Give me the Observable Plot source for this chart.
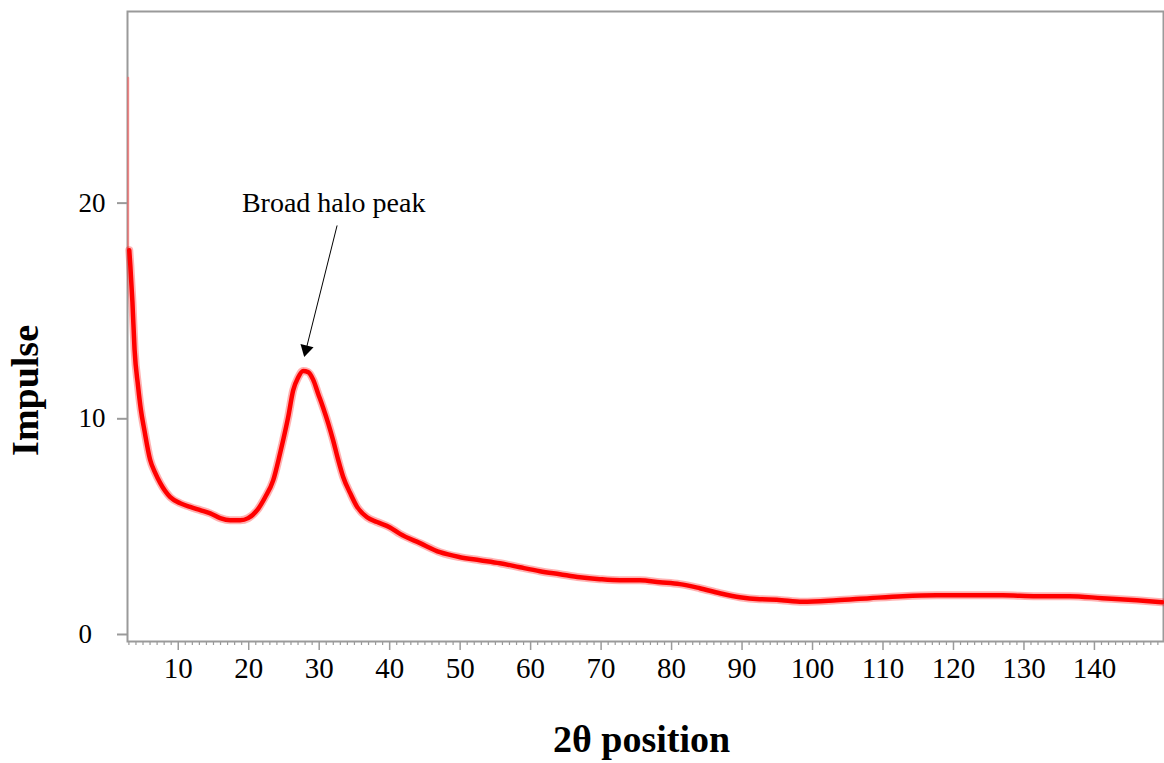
<!DOCTYPE html>
<html>
<head>
<meta charset="utf-8">
<script src="https://cdn.jsdelivr.net/npm/d3@7"></script>
<script src="https://cdn.jsdelivr.net/npm/@observablehq/plot@0.6"></script>
<style>
  html, body { margin: 0; padding: 0; background: white; }
</style>
</head>
<body>
<div id="chart"></div>
<script>
// 2θ positions and measured intensity ("Impulse")
const thetaValues = [3.05, 3.2, 3.5, 3.8, 4.3, 4.7, 5.2, 6.0, 6.7, 7.45, 8.87, 10.28, 11.7, 13.12, 14.54,
  15.95, 17.37, 18.79, 19.92, 21.2, 22.33, 23.47, 24.46, 24.89, 25.59, 26.3, 27.01, 27.72, 28.43,
  29.14, 29.85, 30.56, 31.26, 31.97, 32.68, 33.39, 34.38, 35.38, 36.79, 38.21, 40.05, 41.47, 44.31,
  47.14, 49.98, 52.81, 55.65, 58.48, 61.32, 64.15, 66.99, 69.82, 72.66, 75.5, 78.33, 81.17, 84.0,
  86.84, 89.68, 92.51, 94.92, 98.6, 103.4, 108.1, 112.8, 117.6, 122.3, 127.0, 131.8, 136.5, 141.1,
  146.0, 149.6];
const impulseValues = [18.0, 17.3, 15.6, 13.4, 11.7, 10.6, 9.65, 8.3, 7.7, 7.2, 6.55, 6.27, 6.1, 5.95, 5.8,
  5.58, 5.48, 5.48, 5.58, 5.95, 6.55, 7.33, 8.6, 9.2, 10.25, 11.5, 12.1, 12.4, 12.35,
  12.0, 11.35, 10.7, 10.0, 9.2, 8.3, 7.5, 6.75, 6.1, 5.62, 5.4, 5.15, 4.85, 4.42,
  4.0, 3.77, 3.63, 3.49, 3.3, 3.12, 2.98, 2.84, 2.75, 2.7, 2.7, 2.61, 2.52, 2.33,
  2.1, 1.91, 1.82, 1.8, 1.7, 1.77, 1.87, 1.96, 2.0, 2.0, 2.0, 1.96, 1.96, 1.87,
  1.77, 1.68];
// initial spike at low angle
const spikeTheta = [2.9, 2.9, 3.05];
const spikeImpulse = [26.0, 18.0, 18.0];

// axis ticks
const xTickValues = [10, 20, 30, 40, 50, 60, 70, 80, 90, 100, 110, 120, 130, 140];
const xMinorTicks = d3.range(3, 150).filter(v => v % 10 !== 0);
const yTickValues = [0, 10, 20];

// annotation
const noteText = ["Broad halo peak"];
const noteTheta = [32.05];
const noteImpulse = [20.2];
const arrowFrom = [32.54, 19.15];
const arrowTo = [28.14, 13.40];

// axis titles (positioned in data space, outside the frame)
const yTitle = ["Impulse"];
const yTitlePos = [-11.6, 11.5];
const xTitle = ["2θ position"];

const curve = thetaValues.map((t, i) => ({theta: t, impulse: impulseValues[i]}));
const spike = spikeTheta.map((t, i) => ({theta: t, impulse: spikeImpulse[i]}));
const note = noteText.map((t, i) => ({text: t, theta: noteTheta[i], impulse: noteImpulse[i]}));

const serif = "'Liberation Serif','Times New Roman',Times,serif";
const gray = "#9a9a9a";

const chart = Plot.plot({
  width: 1164,
  height: 763,
  marginLeft: 127,
  marginTop: 11,
  marginRight: 1,
  marginBottom: 122,
  x: {domain: [2.8, 149.8]},
  y: {domain: [-0.14, 29.07]},
  style: {fontFamily: serif, background: "white", color: "black"},
  marks: [
    Plot.frame({stroke: gray, strokeWidth: 2}),
    Plot.axisX({ticks: xMinorTicks, tickSize: 4, tickFormat: () => "", stroke: gray, strokeWidth: 1.2, label: null}),
    Plot.axisX({ticks: xTickValues, tickSize: 9, tickPadding: 7, fontSize: 29, fill: "black", stroke: gray, strokeWidth: 1.5, label: null}),
    Plot.axisY({ticks: yTickValues, tickSize: 10, tickPadding: 39, textAnchor: "start", dy: -4, fontSize: 27, fill: "black", stroke: gray, strokeWidth: 2, label: null}),
    Plot.line(spike, {x: "theta", y: "impulse", stroke: "#ff5a5a", strokeWidth: 2, strokeOpacity: 0.6}),
    Plot.line(curve, {x: "theta", y: "impulse", curve: "monotone-x", stroke: "#ff0000", strokeWidth: 8, strokeOpacity: 0.3}),
    Plot.line(curve, {x: "theta", y: "impulse", curve: "monotone-x", stroke: "#ff0000", strokeWidth: 4.5}),
    Plot.link([0], {x1: () => arrowFrom[0], y1: () => arrowFrom[1], x2: () => arrowTo[0], y2: () => arrowTo[1], stroke: "black", strokeWidth: 1}),
    Plot.dot([0], {x: () => arrowTo[0], y: () => arrowTo[1], symbol: "triangle", r: 5, fill: "black", stroke: null, rotate: 194}),
    Plot.text(note, {x: "theta", y: "impulse", text: "text", fontSize: 28, fill: "black", lineAnchor: "middle"}),
    Plot.text(yTitle, {x: () => yTitlePos[0], y: () => yTitlePos[1], text: d => d, rotate: -90, fontSize: 38, fontWeight: "bold", fill: "black", lineAnchor: "middle"}),
    Plot.text(xTitle, {frameAnchor: "bottom", dx: -4, dy: 98, fontSize: 38, fontWeight: "bold", fill: "black", lineAnchor: "middle"})
  ]
});
document.getElementById("chart").appendChild(chart);
</script>
</body>
</html>
